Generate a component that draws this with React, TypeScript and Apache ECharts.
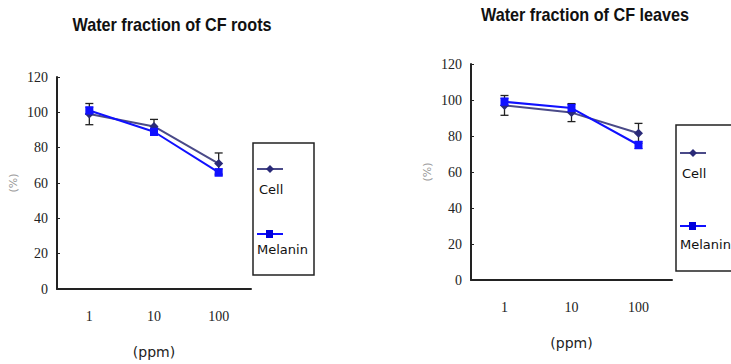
import React, { useEffect, useRef } from "react";
import * as echarts from "echarts";

const categories = ["1", "10", "100"];

const rootsTitle = "Water fraction of CF roots";
const leavesTitle = "Water fraction of CF leaves";

const rootsCell = [99, 92, 71];
const rootsCellErr = [6, 4, 6];
const rootsMelanin = [101, 89, 66];
const rootsMelaninErr = [2, 2, 2];

const leavesCell = [97, 93, 81.5];
const leavesCellErr = [5.5, 5, 5.5];
const leavesMelanin = [99, 95.5, 75];
const leavesMelaninErr = [2, 2, 2];

const cellColor = "#2a2a78";
const cellLine = "#4a4a88";
const melColor = "#1010ff";

const errData = (vals: number[], errs: number[]) =>
  vals.map((v, i) => [i, v - errs[i], v + errs[i]]);

const errRender = (color: string) => (params: any, api: any) => {
  const x = api.value(0);
  const lo = api.coord([x, api.value(1)]);
  const hi = api.coord([x, api.value(2)]);
  const w = 4;
  const style = { stroke: color, lineWidth: 1.3 };
  return {
    type: "group",
    children: [
      { type: "line", shape: { x1: lo[0], y1: lo[1], x2: hi[0], y2: hi[1] }, style },
      { type: "line", shape: { x1: lo[0] - w, y1: lo[1], x2: lo[0] + w, y2: lo[1] }, style },
      { type: "line", shape: { x1: hi[0] - w, y1: hi[1], x2: hi[0] + w, y2: hi[1] }, style },
    ],
  };
};

export default function App() {
  const ref = useRef<HTMLDivElement>(null);
  useEffect(() => {
    const chart = echarts.init(ref.current!, null, { renderer: "svg" });
    const axisFont = "Liberation Serif";
    const mkX = (gi: number) => ({
      type: "category",
      gridIndex: gi,
      data: categories,
      boundaryGap: true,
      axisLine: { lineStyle: { color: "#222", width: 2 } },
      axisTick: { show: false },
      axisLabel: { color: "#222", fontFamily: axisFont, fontSize: 14, margin: 20 },
      name: "(ppm)",
      nameLocation: "middle",
      nameGap: 56,
      nameTextStyle: { color: "#222", fontFamily: "DejaVu Sans", fontSize: 14 },
    });
    const mkY = (gi: number) => ({
      type: "value",
      gridIndex: gi,
      min: 0,
      max: 120,
      interval: 20,
      splitLine: { show: false },
      axisLine: { show: true, lineStyle: { color: "#222", width: 2 } },
      axisTick: { show: true, length: 3, inside: true, lineStyle: { color: "#222" } },
      axisLabel: { color: "#222", fontFamily: axisFont, fontSize: 14, margin: 9 },
      name: "(%)",
      nameLocation: "middle",
      nameRotate: 90,
      nameGap: 38,
      nameTextStyle: { color: "#999", fontFamily: "DejaVu Sans", fontSize: 11 },
    });
    const lineSeries = (name: string, gi: number, data: number[], color: string, lc: string, symbol: string) => ({
      type: "line",
      name,
      xAxisIndex: gi,
      yAxisIndex: gi,
      data,
      symbol,
      symbolSize: symbol === "diamond" ? 9 : 8,
      itemStyle: { color },
      lineStyle: { color: lc, width: 2 },
      z: 3,
    });
    const errSeries = (gi: number, vals: number[], errs: number[], color: string) => ({
      type: "custom",
      xAxisIndex: gi,
      yAxisIndex: gi,
      data: errData(vals, errs),
      renderItem: errRender(color),
      z: 2,
    });
    const legendGroup = (x: number, y: number, w: number, h: number, cy1: number, ty1: number, cy2: number, ty2: number) => [
      { type: "rect", shape: { x, y, width: w, height: h }, style: { fill: "#fff", stroke: "#222", lineWidth: 1.5 } },
      { type: "line", shape: { x1: x + 4, y1: cy1, x2: x + 30, y2: cy1 }, style: { stroke: cellLine, lineWidth: 2 } },
      { type: "polygon", shape: { points: [[x + 17, cy1 - 4], [x + 21, cy1], [x + 17, cy1 + 4], [x + 13, cy1]] }, style: { fill: cellColor } },
      { type: "text", x: x + 6, y: ty1, style: { text: "Cell", fill: "#111", font: "13px 'DejaVu Sans'", verticalAlign: "middle" } },
      { type: "line", shape: { x1: x + 4, y1: cy2, x2: x + 30, y2: cy2 }, style: { stroke: melColor, lineWidth: 2 } },
      { type: "rect", shape: { x: x + 13, y: cy2 - 4, width: 7, height: 8 }, style: { fill: "#0000dd" } },
      { type: "text", x: x + 4, y: ty2, style: { text: "Melanin", fill: "#111", font: "13px 'DejaVu Sans'", verticalAlign: "middle" } },
    ];
    const titleText = (text: string, cx: number, cy: number) => ({
      type: "text",
      x: cx,
      y: cy,
      scaleX: 0.9,
      style: {
        text,
        fill: "#111",
        font: "bold 18px 'Liberation Sans'",
        align: "center",
        verticalAlign: "middle",
      },
    });
    chart.setOption({
      animation: false,
      backgroundColor: "#fff",
      grid: [
        { left: 57, top: 77, width: 194, height: 213 },
        { left: 471, top: 64, width: 201, height: 216 },
      ],
      xAxis: [mkX(0), mkX(1)],
      yAxis: [mkY(0), mkY(1)],
      series: [
        errSeries(0, rootsCell, rootsCellErr, "#222"),
        errSeries(0, rootsMelanin, rootsMelaninErr, melColor),
        lineSeries("Cell", 0, rootsCell, cellColor, cellLine, "diamond"),
        lineSeries("Melanin", 0, rootsMelanin, melColor, melColor, "rect"),
        errSeries(1, leavesCell, leavesCellErr, "#222"),
        errSeries(1, leavesMelanin, leavesMelaninErr, melColor),
        lineSeries("Cell", 1, leavesCell, cellColor, cellLine, "diamond"),
        lineSeries("Melanin", 1, leavesMelanin, melColor, melColor, "rect"),
      ],
      graphic: [
        titleText(rootsTitle, 172, 25),
        titleText(leavesTitle, 585, 15),
        ...legendGroup(253, 143, 61, 132, 169, 189, 234, 249),
        ...legendGroup(676, 125, 70, 146, 153, 173, 226, 244),
      ],
    });
    return () => chart.dispose();
  }, []);
  return <div ref={ref} style={{ width: 731, height: 364, position: "absolute", left: 0, top: 0 }} />;
}
